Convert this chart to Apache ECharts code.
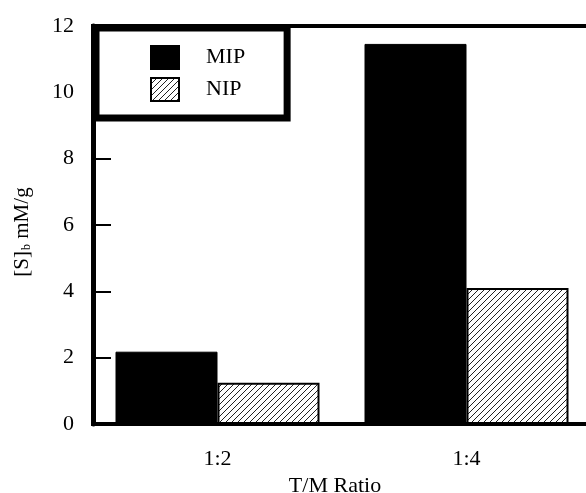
<!DOCTYPE html>
<html>
<head>
<meta charset="utf-8">
<script src="https://cdn.jsdelivr.net/npm/echarts@6/dist/echarts.min.js"></script>
<style>
html,body{margin:0;padding:0;background:#fff;}
#c{width:586px;height:493px;}
</style>
</head>
<body>
<div id="c"></div>
<script>
const categories = ['1:2', '1:4'];
const mipValues = [2.18, 11.46];
const nipValues = [1.24, 4.10];
const yTicks = { min: 0, max: 12, interval: 2 };

function hatch() {
  const s = 6;
  const c = document.createElement('canvas');
  c.width = s; c.height = s;
  const g = c.getContext('2d');
  g.fillStyle = '#fff';
  g.fillRect(0, 0, s, s);
  g.strokeStyle = '#222';
  g.lineWidth = 1;
  g.beginPath();
  g.moveTo(0, s); g.lineTo(s, 0);
  g.moveTo(-1, 1); g.lineTo(1, -1);
  g.moveTo(s - 1, s + 1); g.lineTo(s + 1, s - 1);
  g.stroke();
  return c;
}

const font = 'Liberation Serif';
const chart = echarts.init(document.getElementById('c'), null, { renderer: 'canvas' });
chart.setOption({
  animation: false,
  backgroundColor: '#fff',
  textStyle: { fontFamily: font, color: '#000' },
  grid: {
    left: 93, right: -5, top: 26, bottom: 69,
    outerBoundsMode: 'none',
    containLabel: false,
    show: true, borderColor: '#000', borderWidth: 4, backgroundColor: 'transparent'
  },
  legend: {
    left: 96, top: 28,
    orient: 'vertical',
    padding: [17, 42, 16, 54],
    itemWidth: 28, itemHeight: 23, itemGap: 7,
    backgroundColor: '#fff',
    borderColor: '#000', borderWidth: 7,
    icon: 'rect',
    textStyle: { fontFamily: font, fontSize: 22, color: '#000', padding: [0, 0, 0, 22] },
    data: ['MIP', 'NIP']
  },
  xAxis: {
    type: 'category',
    data: categories,
    name: 'T/M Ratio',
    nameLocation: 'middle',
    nameGap: 48,
    nameTextStyle: { fontFamily: font, fontSize: 22, color: '#000', padding: [0, 14, 0, 0] },
    axisLine: { lineStyle: { color: '#000', width: 4 } },
    axisTick: { inside: true, length: 17, lineStyle: { color: '#000', width: 2 } },
    axisLabel: { fontFamily: font, fontSize: 22, color: '#000', margin: 24 }
  },
  yAxis: {
    type: 'value',
    min: yTicks.min, max: yTicks.max, interval: yTicks.interval,
    name: '[S]{sub|b} mM/g',
    nameLocation: 'middle',
    nameGap: 60,
    nameRotate: 90,
    nameTextStyle: {
      fontFamily: font, fontSize: 21, color: '#000',
      padding: [0, 14, 0, 0],
      rich: { sub: { fontFamily: font, fontSize: 12, color: '#000', verticalAlign: 'bottom', padding: [8, 0, 0, 1] } }
    },
    splitLine: { show: false },
    axisLine: { show: true, lineStyle: { color: '#000', width: 5 } },
    axisTick: { show: true, inside: true, length: 18, lineStyle: { color: '#000', width: 2 } },
    axisLabel: { fontFamily: font, fontSize: 22, color: '#000', margin: 19 }
  },
  series: [
    {
      name: 'MIP', type: 'bar', data: mipValues,
      barWidth: 102, barGap: '0%',
      itemStyle: { color: '#000', borderColor: '#000', borderWidth: 1 }
    },
    {
      name: 'NIP', type: 'bar', data: nipValues,
      barWidth: 102,
      itemStyle: { color: { image: hatch(), repeat: 'repeat' }, borderColor: '#000', borderWidth: 2 }
    }
  ]
});
</script>
</body>
</html>
